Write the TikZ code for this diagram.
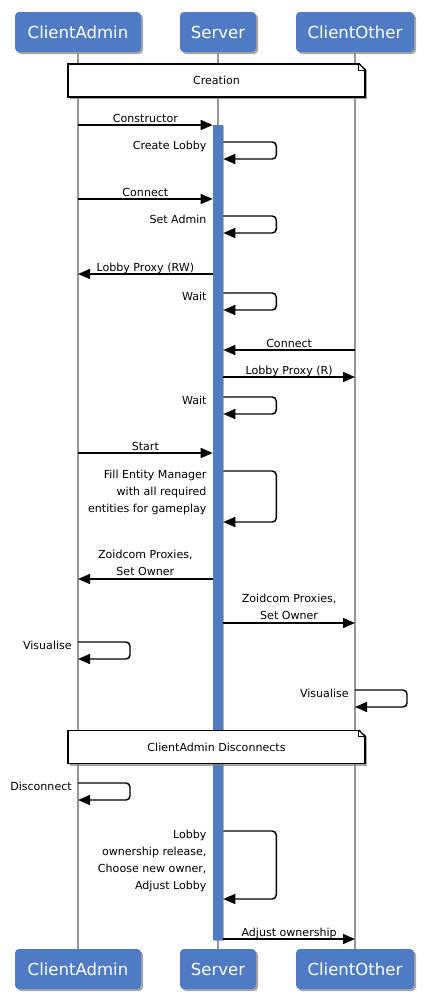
\documentclass[tikz,border=0pt]{standalone}
\usepackage{fontspec}
\setmainfont{DejaVu Sans}
\usetikzlibrary{calc,shadows,arrows.meta}
\definecolor{actorblue}{RGB}{79,123,197}
\definecolor{lifegray}{RGB}{150,150,150}

\begin{document}
\begin{tikzpicture}[x=0.75pt,y=-0.75pt,
	actor/.style={fill=actorblue,rounded corners=3pt,minimum height=30pt,inner sep=0pt,text=white,
		font=\fontsize{12.4}{14}\selectfont,drop shadow={shadow xshift=1.5pt,shadow yshift=-1.5pt,opacity=0.7}},
	life/.style={draw=lifegray,line width=1.1pt},
	msg/.style={draw,line width=1.1pt,-{Triangle[length=9pt,width=7.5pt]}},
	loopmsg/.style={msg,rounded corners=3pt},
	lbl/.style={font=\fontsize{8.3}{12.75}\selectfont,inner sep=0pt},
	note/.style={draw,fill=white,line width=0.9pt,minimum width=222.75pt,minimum height=24.75pt,
		font=\fontsize{8.3}{12.75}\selectfont,drop shadow={shadow xshift=1.5pt,shadow yshift=-1.5pt,opacity=0.7}}]
	\useasboundingbox (0,0) rectangle (429,1001);
	% participants
	\node[actor,minimum width=94.5pt] (caT) at (78,32) {ClientAdmin};
	\node[actor,minimum width=57pt] (svT) at (218,32) {Server};
	\node[actor,minimum width=88.5pt] (coT) at (355,32) {ClientOther};
	\node[actor,minimum width=94.5pt] (caB) at (78,969) {ClientAdmin};
	\node[actor,minimum width=57pt] (svB) at (218,969) {Server};
	\node[actor,minimum width=88.5pt] (coB) at (355,969) {ClientOther};
	\draw[life] (caT.south) -- (caB.north);
	\draw[life] (svT.south) -- (svB.north);
	\draw[life] (coT.south) -- (coB.north);
	\node[fill=actorblue,minimum width=7.5pt,minimum height=611.25pt,inner sep=0pt,
		drop shadow={shadow xshift=1pt,shadow yshift=-1pt,opacity=0.6}] (bar) at (218,532.5) {};
	% notes
	\node[note] (creation) at (216.5,80.5) {Creation};
	\node[note] (disc) at (216.5,747) {ClientAdmin Disconnects};
	\foreach \n in {creation,disc}{
		\fill[white] ($(\n.north east)+(-7,-1.5)$) -- ($(\n.north east)+(1.5,-1.5)$) -- ($(\n.north east)+(1.5,7)$) -- cycle;
		\draw[line width=0.7pt] ($(\n.north east)+(-7,0)$) -- ++(0,7) -- ++(7,0);
		\draw[line width=0.9pt] ($(\n.north east)+(-7,0)$) -- ($(\n.north east)+(0,7)$);
	}
	% messages
	\draw[msg] (caT |- 0,125) -- (bar.west |- 0,125) node[lbl,midway,anchor=base,yshift=2pt] (mConstr) {Constructor};
	\draw[loopmsg] (bar.east |- 0,142) -- ++(53,0) -- ++(0,17) -- (bar.east |- 0,159);
	\node[lbl,anchor=north east,xshift=-4.5pt] (lCreate) at (bar.west |- 0,140.5) {Create Lobby};
	\draw[msg] (caT |- 0,199) -- (bar.west |- 0,199) node[lbl,midway,anchor=base,yshift=2pt] (mConn) {Connect};
	\draw[loopmsg] (bar.east |- 0,216) -- ++(53,0) -- ++(0,17) -- (bar.east |- 0,233);
	\node[lbl,anchor=north east,xshift=-4.5pt] (lAdmin) at (bar.west |- 0,214.5) {Set Admin};
	\draw[msg] (bar.west |- 0,274) -- (caT |- 0,274) node[lbl,midway,anchor=base,yshift=2pt] (mRW) {Lobby Proxy (RW)};
	\draw[loopmsg] (bar.east |- 0,293) -- ++(53,0) -- ++(0,17) -- (bar.east |- 0,310);
	\node[lbl,anchor=north east,xshift=-4.5pt] (lWaitA) at (bar.west |- 0,291.5) {Wait};
	\draw[msg] (coT |- 0,350) -- (bar.east |- 0,350) node[lbl,midway,anchor=base,yshift=2pt] (mConnO) {Connect};
	\draw[msg] (bar.east |- 0,377) -- (coT |- 0,377) node[lbl,midway,anchor=base,yshift=2pt] (mR) {Lobby Proxy (R)};
	\draw[loopmsg] (bar.east |- 0,397) -- ++(53,0) -- ++(0,17) -- (bar.east |- 0,414);
	\node[lbl,anchor=north east,xshift=-4.5pt] (lWaitB) at (bar.west |- 0,395.5) {Wait};
	\draw[msg] (caT |- 0,453) -- (bar.west |- 0,453) node[lbl,midway,anchor=base,yshift=2pt] (mStart) {Start};
	\draw[loopmsg] (bar.east |- 0,471) -- ++(53,0) -- ++(0,51) -- (bar.east |- 0,522);
	\node[lbl,anchor=north east,align=right,xshift=-4.5pt] (lFill) at (bar.west |- 0,469.5) {Fill Entity Manager\\with all required\\entities for gameplay};
	\draw[msg] (bar.west |- 0,579) -- (caT |- 0,579) node[lbl,midway,anchor=south,align=center,yshift=2pt] (mZoidA) {Zoidcom Proxies,\\Set Owner};
	\draw[msg] (bar.east |- 0,623) -- (coT |- 0,623) node[lbl,midway,anchor=south,align=center,yshift=2pt] (mZoidO) {Zoidcom Proxies,\\Set Owner};
	\draw[loopmsg] (caT |- 0,642) -- ++(52,0) -- ++(0,17) -- (caT |- 0,659);
	\node[lbl,anchor=north east,xshift=-4.5pt] (lVisA) at (caT |- 0,640.5) {Visualise};
	\draw[loopmsg] (coT |- 0,690) -- ++(52,0) -- ++(0,17) -- (coT |- 0,707);
	\node[lbl,anchor=north east,xshift=-4.5pt] (lVisO) at (coT |- 0,688.5) {Visualise};
	\draw[loopmsg] (caT |- 0,783) -- ++(52,0) -- ++(0,17) -- (caT |- 0,800);
	\node[lbl,anchor=north east,xshift=-4.5pt] (lDisc) at (caT |- 0,781.5) {Disconnect};
	\draw[loopmsg] (bar.east |- 0,831) -- ++(53,0) -- ++(0,68) -- (bar.east |- 0,899);
	\node[lbl,anchor=north east,align=right,xshift=-4.5pt] (lLobby) at (bar.west |- 0,829.5) {Lobby\\ownership release,\\Choose new owner,\\Adjust Lobby};
	\draw[msg] (bar.east |- 0,939) -- (coT |- 0,939) node[lbl,midway,anchor=base,yshift=2pt] (mAdj) {Adjust ownership};
\end{tikzpicture}
\end{document}
